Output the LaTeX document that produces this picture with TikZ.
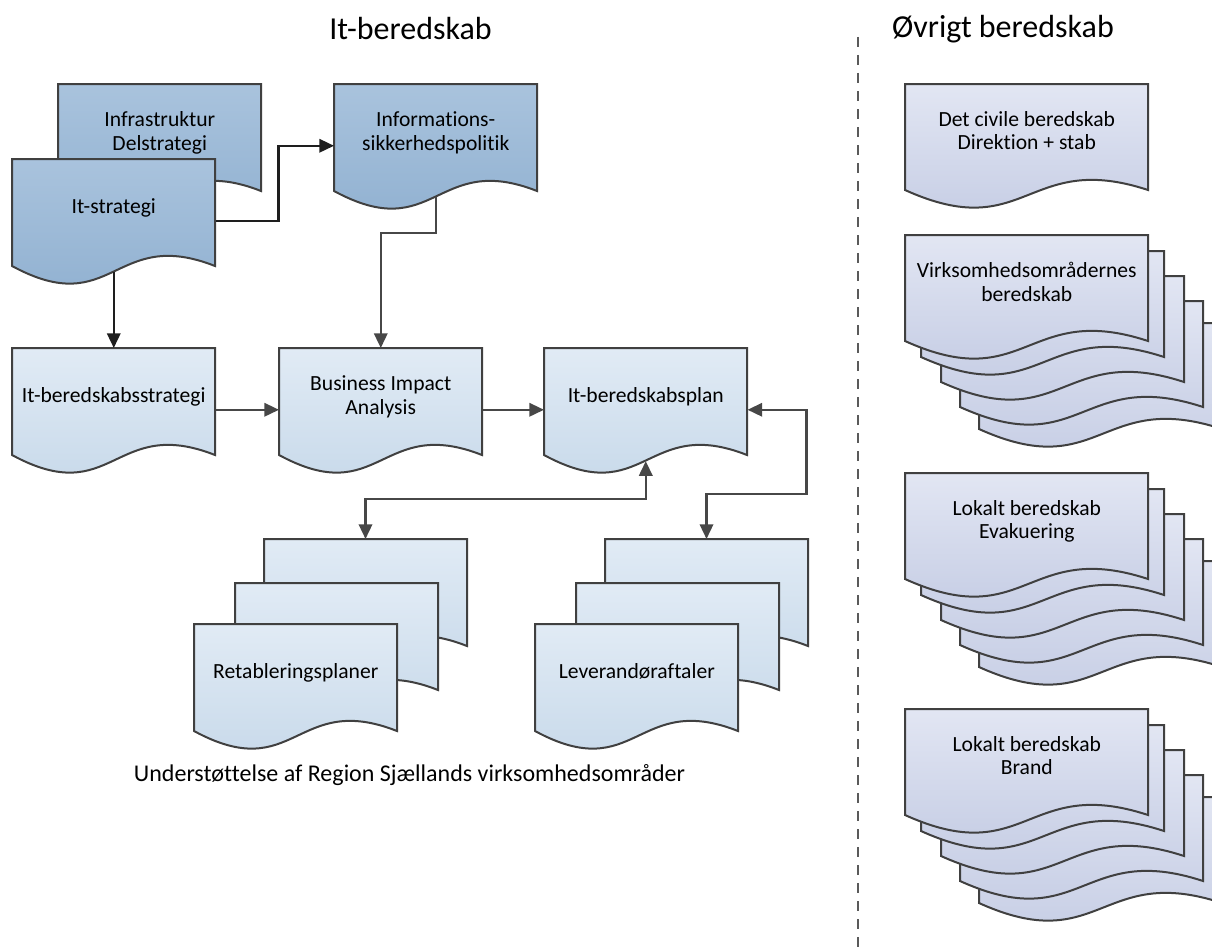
\documentclass[tikz,border=0pt]{standalone}
\usepackage{fontspec}
\setmainfont[Ligatures=NoCommon]{Carlito}
\usetikzlibrary{arrows.meta}

\definecolor{darktop}{HTML}{A9C3DD}
\definecolor{darkbot}{HTML}{8DAECF}
\definecolor{lighttop}{HTML}{E1EBF5}
\definecolor{lightbot}{HTML}{C3D6E8}
\definecolor{lavtop}{HTML}{E2E6F3}
\definecolor{lavbot}{HTML}{C1C9E2}
\definecolor{edgegray}{HTML}{404040}
\definecolor{arrowdark}{HTML}{1E1E1E}
\definecolor{arrowgray}{HTML}{474747}
\definecolor{dividergray}{HTML}{5A5A5A}

\begin{document}
\begin{tikzpicture}[x=0.75pt,y=-0.75pt]
\tikzset{
  darkfill/.style={draw=edgegray,line width=1.5pt,top color=darktop,bottom color=darkbot},
  lightfill/.style={draw=edgegray,line width=1.5pt,top color=lighttop,bottom color=lightbot},
  lavfill/.style={draw=edgegray,line width=1.5pt,top color=lavtop,bottom color=lavbot},
  pics/leftsheet/.style={code={\path[#1] (0,0) -- (203,0) -- (203,107) .. controls (101.5,67) and (101.5,162) .. (0,107) -- cycle;}},
  pics/rightsheet/.style={code={\path[#1] (0,0) -- (243,0) -- (243,106) .. controls (121.5,66) and (121.5,161) .. (0,106) -- cycle;}},
  leftdoc/.style={anchor=north west,minimum width=152.25pt,minimum height=80.25pt,inner sep=0pt,text depth=10pt,align=center,font=\fontsize{16.2}{17.8}\selectfont},
  rightdoc/.style={anchor=north west,minimum width=182.25pt,minimum height=79.5pt,inner sep=0pt,text depth=10pt,align=center,font=\fontsize{16.2}{17.8}\selectfont},
  titletext/.style={font=\fontsize{24}{28}\selectfont},
  darkarrow/.style={-{Triangle[length=11pt,width=10pt]},line width=1.8pt,draw=arrowdark},
  grayarrow/.style={-{Triangle[length=11pt,width=10pt]},line width=1.8pt,draw=arrowgray},
  twoway/.style={{Triangle[length=11pt,width=10pt]}-{Triangle[length=11pt,width=10pt]},line width=1.8pt,draw=arrowgray},
  divider/.style={draw=dividergray,line width=1.2pt,dash pattern=on 7.5pt off 6pt}
}
\useasboundingbox (0,0) rectangle (1212,949);
\clip (0,0) rectangle (1212,949);

% headings
\node[titletext] (t_it) at (410.5,29) {It-beredskab};
\node[titletext] (t_other) at (1003,29) {Øvrigt beredskab};
\draw[divider] (858,37) -- (858,949);

% strategy level
\pic at (58,84) {leftsheet=darkfill};
\node[leftdoc] (infra) at (58,84) {Infrastruktur\\Delstrategi};
\pic at (12,159) {leftsheet=darkfill};
\node[leftdoc] (itstrat) at (12,159) {It-strategi};
\pic at (334,84) {leftsheet=darkfill};
\node[leftdoc] (infopol) at (334,84) {Informations-\\sikkerhedspolitik};

% planning level
\pic at (12,348) {leftsheet=lightfill};
\node[leftdoc] (bstrat) at (12,348) {It-beredskabsstrategi};
\pic at (279,348) {leftsheet=lightfill};
\node[leftdoc] (bia) at (279,348) {Business Impact\\Analysis};
\pic at (544,348) {leftsheet=lightfill};
\node[leftdoc] (plan) at (544,348) {It-beredskabsplan};

% stacks under the plan
\pic at (264,539) {leftsheet=lightfill};
\pic at (235,583) {leftsheet=lightfill};
\pic at (194,624) {leftsheet=lightfill};
\node[leftdoc] (retab) at (194,624) {Retableringsplaner};
\coordinate (retab_top) at (365.5,539);
\pic at (605,539) {leftsheet=lightfill};
\pic at (576,583) {leftsheet=lightfill};
\pic at (535,624) {leftsheet=lightfill};
\node[leftdoc] (lev) at (535,624) {Leverandøraftaler};
\coordinate (lev_top) at (706.5,539);

\node[font=\fontsize{18}{22}\selectfont] (support) at (409.5,775) {Understøttelse af Region Sjællands virksomhedsområder};

% connectors
\draw[darkarrow] ([yshift=-6pt]itstrat.east) -- ++(63,0) |- ([yshift=-6pt]infopol.west);
\draw[darkarrow] ([yshift=-4.2pt]itstrat.south) -- (bstrat.north);
\draw[grayarrow] ([yshift=-4.2pt]infopol.south) -- ++(0,36) -| (bia.north);
\draw[grayarrow] ([yshift=-6pt]bstrat.east) -- ([yshift=-6pt]bia.west);
\draw[grayarrow] ([yshift=-6pt]bia.east) -- ([yshift=-6pt]plan.west);
\draw[twoway] ([yshift=-6pt]plan.east) -- ++(59,0) -- ++(0,84) -| (lev_top);
\draw[twoway] ([yshift=-4.2pt]plan.south) -- ++(0,38) -| (retab_top);

% other preparedness
\pic at (905,84) {rightsheet=lavfill};
\node[rightdoc] (civil) at (905,84) {Det civile beredskab\\Direktion + stab};

\foreach \dx/\dy in {74/88,55/66,36/41,16/16}
  \pic at (905+\dx,235+\dy) {rightsheet=lavfill};
\pic at (905,235) {rightsheet=lavfill};
\node[rightdoc] (areas) at (905,235) {Virksomhedsområdernes\\beredskab};

\foreach \dx/\dy in {74/88,55/66,36/41,16/16}
  \pic at (905+\dx,473+\dy) {rightsheet=lavfill};
\pic at (905,473) {rightsheet=lavfill};
\node[rightdoc] (evac) at (905,473) {Lokalt beredskab\\Evakuering};

\foreach \dx/\dy in {74/88,55/66,36/41,16/16}
  \pic at (905+\dx,709+\dy) {rightsheet=lavfill};
\pic at (905,709) {rightsheet=lavfill};
\node[rightdoc] (fire) at (905,709) {Lokalt beredskab\\Brand};
\end{tikzpicture}
\end{document}
